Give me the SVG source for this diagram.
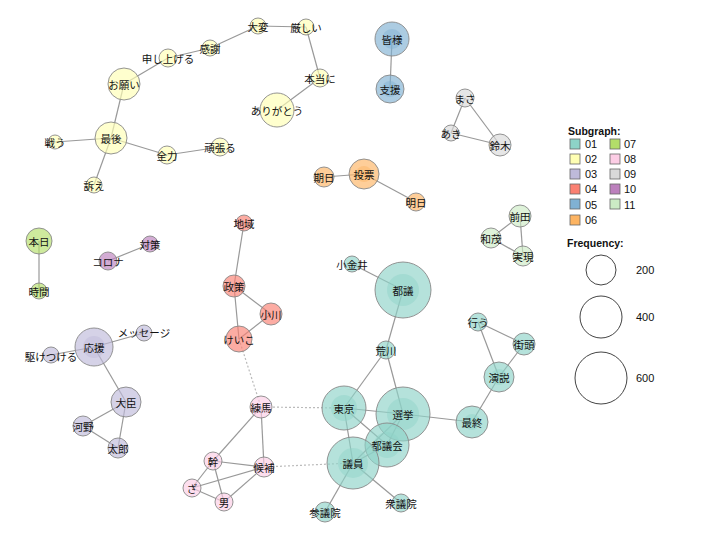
<svg xmlns="http://www.w3.org/2000/svg" width="720" height="540" viewBox="0 0 720 540">
<style>
.e{stroke:#999;stroke-width:1.2;fill:none}
.d{stroke:#bbb;stroke-width:1.2;stroke-dasharray:2,2;fill:none}
circle{stroke:#888;stroke-width:0.9;fill-opacity:0.65}
circle.in{stroke:none;fill-opacity:0.45}
text{font-family:"Noto Sans CJK JP","Noto Sans",sans-serif;font-size:10.5px;fill:#111;text-anchor:middle;dominant-baseline:central}
.c01{fill:#8DD3C7}.c02{fill:#FFFFB3}.c03{fill:#BEBADA}.c04{fill:#FB8072}.c05{fill:#80B1D3}.c06{fill:#FDB462}
.c07{fill:#B3DE69}.c08{fill:#FCCDE5}.c09{fill:#D9D9D9}.c10{fill:#BC80BD}.c11{fill:#CCEBC5}
.lg text{font-family:"Liberation Sans",Arial,sans-serif;font-size:11px;text-anchor:start}
.lg rect{stroke:#666;stroke-width:0.8}
.lg circle.f{fill:none;fill-opacity:1;stroke:#444;stroke-width:1}
</style>
<g id="connectors">
<line class="e" x1="124" y1="84" x2="168" y2="58"/>
<line class="e" x1="168" y1="58" x2="210" y2="48"/>
<line class="e" x1="210" y1="48" x2="258" y2="26"/>
<line class="e" x1="258" y1="26" x2="306" y2="27"/>
<line class="e" x1="306" y1="27" x2="320" y2="78"/>
<line class="e" x1="320" y1="78" x2="277" y2="110"/>
<line class="e" x1="124" y1="84" x2="111" y2="138"/>
<line class="e" x1="111" y1="138" x2="55" y2="142"/>
<line class="e" x1="111" y1="138" x2="94" y2="185"/>
<line class="e" x1="111" y1="138" x2="167" y2="155"/>
<line class="e" x1="167" y1="155" x2="220" y2="147"/>
<line class="e" x1="392" y1="39" x2="390" y2="89"/>
<line class="e" x1="465" y1="98" x2="451" y2="133"/>
<line class="e" x1="465" y1="98" x2="500" y2="145"/>
<line class="e" x1="451" y1="133" x2="500" y2="145"/>
<line class="e" x1="324" y1="177" x2="364" y2="174"/>
<line class="e" x1="364" y1="174" x2="416" y2="202"/>
<line class="e" x1="520" y1="216" x2="491" y2="238"/>
<line class="e" x1="520" y1="216" x2="523" y2="256"/>
<line class="e" x1="491" y1="238" x2="523" y2="256"/>
<line class="e" x1="39" y1="241" x2="39" y2="291"/>
<line class="e" x1="150" y1="244" x2="108" y2="261"/>
<line class="e" x1="94" y1="347" x2="144" y2="333"/>
<line class="e" x1="94" y1="347" x2="51" y2="355"/>
<line class="e" x1="94" y1="347" x2="126" y2="402"/>
<line class="e" x1="126" y1="402" x2="83" y2="426"/>
<line class="e" x1="126" y1="402" x2="118" y2="448"/>
<line class="e" x1="83" y1="426" x2="118" y2="448"/>
<line class="e" x1="244" y1="223" x2="234" y2="286"/>
<line class="e" x1="234" y1="286" x2="271" y2="314"/>
<line class="e" x1="234" y1="286" x2="239" y2="339"/>
<line class="e" x1="271" y1="314" x2="239" y2="339"/>
<line class="d" x1="239" y1="339" x2="261" y2="407"/>
<line class="d" x1="261" y1="407" x2="344" y2="408"/>
<line class="d" x1="264" y1="467" x2="353" y2="463"/>
<line class="e" x1="261" y1="407" x2="213" y2="461"/>
<line class="e" x1="261" y1="407" x2="264" y2="467"/>
<line class="e" x1="213" y1="461" x2="264" y2="467"/>
<line class="e" x1="213" y1="461" x2="192" y2="488"/>
<line class="e" x1="213" y1="461" x2="224" y2="502"/>
<line class="e" x1="192" y1="488" x2="264" y2="467"/>
<line class="e" x1="192" y1="488" x2="224" y2="502"/>
<line class="e" x1="224" y1="502" x2="264" y2="467"/>
<line class="e" x1="352" y1="264" x2="403" y2="290"/>
<line class="e" x1="403" y1="290" x2="386" y2="350"/>
<line class="e" x1="386" y1="350" x2="344" y2="408"/>
<line class="e" x1="386" y1="350" x2="403" y2="414"/>
<line class="e" x1="344" y1="408" x2="403" y2="414"/>
<line class="e" x1="344" y1="408" x2="387" y2="445"/>
<line class="e" x1="344" y1="408" x2="353" y2="463"/>
<line class="e" x1="403" y1="414" x2="353" y2="463"/>
<line class="e" x1="403" y1="414" x2="387" y2="445"/>
<line class="e" x1="353" y1="463" x2="387" y2="445"/>
<line class="e" x1="403" y1="414" x2="472" y2="422"/>
<line class="e" x1="472" y1="422" x2="499" y2="377"/>
<line class="e" x1="499" y1="377" x2="524" y2="344"/>
<line class="e" x1="499" y1="377" x2="478" y2="322"/>
<line class="e" x1="478" y1="322" x2="524" y2="344"/>
<line class="e" x1="353" y1="463" x2="325" y2="512"/>
<line class="e" x1="353" y1="463" x2="401" y2="503"/>
</g>
<g id="n-otegai"><circle class="c02" cx="124" cy="84" r="16"/><text x="124" y="84">お願い</text></g>
<g id="n-moushiageru"><circle class="c02" cx="168" cy="58" r="9"/><text x="168" y="58">申し上げる</text></g>
<g id="n-kansha"><circle class="c02" cx="210" cy="48" r="8"/><text x="210" y="48">感謝</text></g>
<g id="n-taihen"><circle class="c02" cx="258" cy="26" r="8"/><text x="258" y="26">大変</text></g>
<g id="n-kibishii"><circle class="c02" cx="306" cy="27" r="8"/><text x="306" y="27">厳しい</text></g>
<g id="n-hontouni"><circle class="c02" cx="320" cy="78" r="9"/><text x="320" y="78">本当に</text></g>
<g id="n-arigatou"><circle class="c02" cx="277" cy="110" r="17"/><text x="277" y="110">ありがとう</text></g>
<g id="n-saigo"><circle class="c02" cx="111" cy="138" r="16"/><text x="111" y="138">最後</text></g>
<g id="n-tatakau"><circle class="c02" cx="55" cy="142" r="7"/><text x="55" y="142">戦う</text></g>
<g id="n-uttae"><circle class="c02" cx="94" cy="185" r="8"/><text x="94" y="185">訴え</text></g>
<g id="n-zenryoku"><circle class="c02" cx="167" cy="155" r="9"/><text x="167" y="155">全力</text></g>
<g id="n-ganbaru"><circle class="c02" cx="220" cy="147" r="9"/><text x="220" y="147">頑張る</text></g>
<g id="n-minasama"><circle class="c05" cx="392" cy="39" r="17"/><circle class="in c05" cx="392" cy="39" r="10"/><text x="392" y="39">皆様</text></g>
<g id="n-shien"><circle class="c05" cx="390" cy="89" r="14"/><circle class="in c05" cx="390" cy="89" r="8"/><text x="390" y="89">支援</text></g>
<g id="n-masa"><circle class="c09" cx="465" cy="98" r="9"/><text x="465" y="98">まさ</text></g>
<g id="n-aki"><circle class="c09" cx="451" cy="133" r="8"/><text x="451" y="133">あき</text></g>
<g id="n-suzuki"><circle class="c09" cx="500" cy="145" r="11"/><text x="500" y="145">鈴木</text></g>
<g id="n-kijitsu"><circle class="c06" cx="324" cy="177" r="10"/><text x="324" y="177">期日</text></g>
<g id="n-touhyou"><circle class="c06" cx="364" cy="174" r="15"/><circle class="in c06" cx="364" cy="174" r="8"/><text x="364" y="174">投票</text></g>
<g id="n-ashita"><circle class="c06" cx="416" cy="202" r="9"/><text x="416" y="202">明日</text></g>
<g id="n-maeda"><circle class="c11" cx="520" cy="216" r="11"/><text x="520" y="216">前田</text></g>
<g id="n-kazushige"><circle class="c11" cx="491" cy="238" r="10"/><text x="491" y="238">和茂</text></g>
<g id="n-jitsugen"><circle class="c11" cx="523" cy="256" r="10"/><text x="523" y="256">実現</text></g>
<g id="n-honjitsu"><circle class="c07" cx="39" cy="241" r="13"/><text x="39" y="241">本日</text></g>
<g id="n-jikan"><circle class="c07" cx="39" cy="291" r="8"/><text x="39" y="291">時間</text></g>
<g id="n-taisaku"><circle class="c10" cx="150" cy="244" r="8"/><text x="150" y="244">対策</text></g>
<g id="n-corona"><circle class="c10" cx="108" cy="261" r="9"/><text x="108" y="261">コロナ</text></g>
<g id="n-ouen"><circle class="c03" cx="94" cy="347" r="19"/><circle class="in c03" cx="94" cy="347" r="11"/><text x="94" y="347">応援</text></g>
<g id="n-message"><circle class="c03" cx="144" cy="333" r="8"/><text x="144" y="332">メッセージ</text></g>
<g id="n-kaketsukeru"><circle class="c03" cx="51" cy="355" r="8"/><text x="51" y="356">駆けつける</text></g>
<g id="n-daijin"><circle class="c03" cx="126" cy="402" r="15"/><text x="126" y="402">大臣</text></g>
<g id="n-kouno"><circle class="c03" cx="83" cy="426" r="10"/><text x="83" y="426">河野</text></g>
<g id="n-tarou"><circle class="c03" cx="118" cy="448" r="10"/><text x="118" y="448">太郎</text></g>
<g id="n-chiiki"><circle class="c04" cx="244" cy="223" r="8"/><text x="244" y="223">地域</text></g>
<g id="n-seisaku"><circle class="c04" cx="234" cy="286" r="11"/><text x="234" y="286">政策</text></g>
<g id="n-ogawa"><circle class="c04" cx="271" cy="314" r="11"/><text x="271" y="314">小川</text></g>
<g id="n-keiko"><circle class="c04" cx="239" cy="339" r="13"/><text x="239" y="339">けいこ</text></g>
<g id="n-nerima"><circle class="c08" cx="261" cy="407" r="11"/><text x="261" y="407">練馬</text></g>
<g id="n-kouho"><circle class="c08" cx="264" cy="467" r="10"/><text x="264" y="467">候補</text></g>
<g id="n-kan"><circle class="c08" cx="213" cy="461" r="9"/><text x="213" y="461">幹</text></g>
<g id="n-za"><circle class="c08" cx="192" cy="488" r="9"/><text x="192" y="488">ざ</text></g>
<g id="n-otoko"><circle class="c08" cx="224" cy="502" r="9"/><text x="224" y="502">男</text></g>
<g id="n-koganei"><circle class="c01" cx="352" cy="264" r="8"/><text x="352" y="264">小金井</text></g>
<g id="n-togi"><circle class="c01" cx="403" cy="290" r="28"/><circle class="in c01" cx="403" cy="290" r="16"/><text x="403" y="290">都議</text></g>
<g id="n-arakawa"><circle class="c01" cx="386" cy="350" r="9"/><text x="386" y="350">荒川</text></g>
<g id="n-tokyo"><circle class="c01" cx="344" cy="408" r="22"/><circle class="in c01" cx="344" cy="408" r="13"/><text x="344" y="408">東京</text></g>
<g id="n-senkyo"><circle class="c01" cx="403" cy="414" r="27"/><circle class="in c01" cx="403" cy="414" r="16"/><text x="403" y="414">選挙</text></g>
<g id="n-togikai"><circle class="c01" cx="387" cy="445" r="22"/><circle class="in c01" cx="387" cy="445" r="13"/><text x="387" y="445">都議会</text></g>
<g id="n-giin"><circle class="c01" cx="353" cy="463" r="26"/><circle class="in c01" cx="353" cy="463" r="15"/><text x="353" y="463">議員</text></g>
<g id="n-sangiin"><circle class="c01" cx="325" cy="512" r="10"/><text x="325" y="512">参議院</text></g>
<g id="n-shugiin"><circle class="c01" cx="401" cy="503" r="9"/><text x="401" y="503">衆議院</text></g>
<g id="n-saishuu"><circle class="c01" cx="472" cy="422" r="16"/><circle class="in c01" cx="472" cy="422" r="8"/><text x="472" y="422">最終</text></g>
<g id="n-enzetsu"><circle class="c01" cx="499" cy="377" r="15"/><circle class="in c01" cx="499" cy="377" r="8"/><text x="499" y="377">演説</text></g>
<g id="n-gaitou"><circle class="c01" cx="524" cy="344" r="11"/><text x="524" y="344">街頭</text></g>
<g id="n-okonau"><circle class="c01" cx="478" cy="322" r="9"/><text x="478" y="322">行う</text></g>
<g id="legend" class="lg">
<text x="568" y="131" style="font-weight:bold;font-size:10.5px">Subgraph:</text>
<rect class="c01" x="570" y="139" width="10" height="10"/><text x="585" y="144">01</text>
<rect class="c02" x="570" y="154" width="10" height="10"/><text x="585" y="159">02</text>
<rect class="c03" x="570" y="169" width="10" height="10"/><text x="585" y="174">03</text>
<rect class="c04" x="570" y="184" width="10" height="10"/><text x="585" y="189">04</text>
<rect class="c05" x="570" y="199" width="10" height="10"/><text x="585" y="205">05</text>
<rect class="c06" x="570" y="215" width="10" height="10"/><text x="585" y="220">06</text>
<rect class="c07" x="610" y="139" width="10" height="10"/><text x="624" y="144">07</text>
<rect class="c08" x="610" y="154" width="10" height="10"/><text x="624" y="159">08</text>
<rect class="c09" x="610" y="169" width="10" height="10"/><text x="624" y="174">09</text>
<rect class="c10" x="610" y="184" width="10" height="10"/><text x="624" y="189">10</text>
<rect class="c11" x="610" y="199" width="10" height="10"/><text x="624" y="205">11</text>
<text x="567" y="243" style="font-weight:bold;font-size:10.5px">Frequency:</text>
<circle class="f" cx="601" cy="270" r="15"/><text x="636" y="270">200</text>
<circle class="f" cx="601" cy="317" r="21"/><text x="636" y="317">400</text>
<circle class="f" cx="601" cy="378" r="26"/><text x="636" y="378">600</text>
</g>
</svg>
